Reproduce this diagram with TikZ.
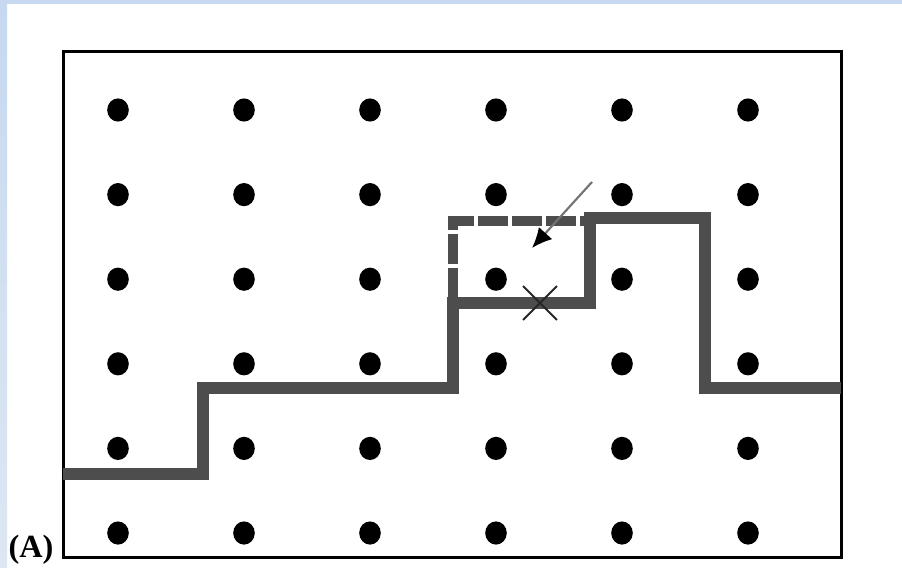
\documentclass[tikz,border=0pt]{standalone}
\usepackage{fontspec}
\setmainfont{Liberation Serif}
\usetikzlibrary{arrows.meta,shapes.misc,shapes.geometric}
\definecolor{pathgrey}{HTML}{4D4D4D}
\definecolor{bandblue}{HTML}{C6D9F0}
\definecolor{bandpale}{HTML}{DDE7F3}

\begin{document}
\begin{tikzpicture}[x=0.025cm, y=-0.025cm,
    site/.style={ellipse, fill=black, inner sep=0pt, minimum width=0.54cm, minimum height=0.58cm},
    route/.style={pathgrey, line width=0.3cm, line join=miter},
    detour/.style={pathgrey, line width=0.23cm, dash pattern=on 0.75cm off 0.1cm},
    pointer/.style={draw=black!55, line width=1.5pt, -{Latex[black, length=0.5cm, width=0.45cm]}},
    cut/.style={cross out, draw=black!85, line width=1.3pt, minimum size=0.8cm, inner sep=0pt}]
  % background and frame
  \fill[white] (0,0) rectangle (902,567);
  \fill[bandblue] (0,0) rectangle (902,4);
  \shade[top color=bandblue, bottom color=bandpale] (0,0) rectangle (7,567);
  \useasboundingbox (0,0) rectangle (902,567);
  \draw[line width=0.075cm] (63.5,51) rectangle (841.5,557.5);
  % lattice of sites
  \foreach \i in {0,...,5}
    \foreach \j in {0,...,5}
      \node[site] (s-\i-\j) at ({118+126*\i},{110+84.6*\j}) {};
  % old and new boundary
  \draw[detour] (453,298) -- (453,221) -- (586,221);
  \draw[route] (63,474) -- (203,474) -- (203,388) -- (453,388) -- (453,303)
    -- (590,303) -- (590,218) -- (705,218) -- (705,388) -- (841,388);
  \node[cut] (cut) at (540,303) {};
  \coordinate (tail) at (592,182);
  \coordinate (head) at (532,248);
  \draw[pointer] (tail) -- (head);
  \node[font=\bfseries\fontsize{23}{23}\selectfont, inner sep=0pt] (lbl) at (31,550) {(A)};
\end{tikzpicture}
\end{document}
